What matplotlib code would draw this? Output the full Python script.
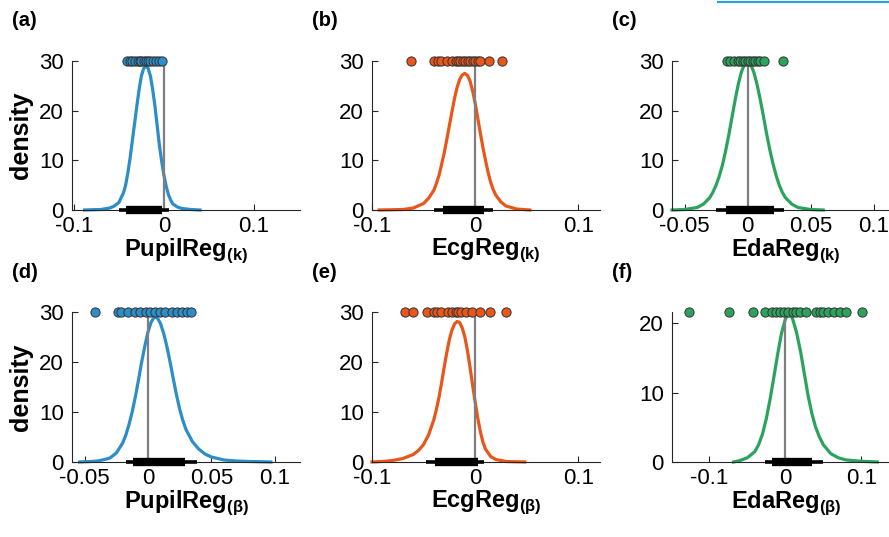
import matplotlib
matplotlib.use("Agg")
import matplotlib.pyplot as plt
from matplotlib.lines import Line2D

plt.rcParams['font.family'] = ['Liberation Sans', 'DejaVu Sans']
plt.rcParams['axes.unicode_minus'] = False
plt.rcParams['mathtext.fontset'] = 'custom'
plt.rcParams['mathtext.rm'] = 'Liberation Sans'
plt.rcParams['mathtext.bf'] = 'Liberation Sans:bold'

BLUE = '#2C8DC7'
ORANGE = '#E8561A'
GREEN = '#2BA35D'

# ---------------- data ----------------
# (a) PupilReg k
a_x = [-0.088, -0.08, -0.07, -0.06, -0.055, -0.05, -0.045, -0.0425, -0.04, -0.0375, -0.035, -0.0325, -0.03, -0.0275, -0.025, -0.0225, -0.02, -0.0175, -0.015, -0.0125, -0.01, -0.0075, -0.005, -0.0025, 0.0, 0.0025, 0.005, 0.0075, 0.01, 0.015, 0.02, 0.03, 0.04]
a_y = [0, 0.05, 0.1, 0.4, 0.8, 1.5, 3.4, 5, 7.5, 10.5, 14, 17.5, 21, 24.3, 27, 28.5, 29, 28.5, 27, 24.3, 21, 17, 13, 9.8, 7, 4.8, 3.1, 2, 1.2, 0.6, 0.3, 0.1, 0]
a_pts = [-0.041, -0.038, -0.035, -0.032, -0.029, -0.027, -0.025, -0.022, -0.02, -0.018, -0.015, -0.012, -0.009, -0.006, -0.002]
a_whisk = [-0.05, 0.0056]
a_box = [-0.042, -0.002]

# (b) EcgReg k
b_x = [-0.093, -0.08, -0.07, -0.06, -0.05, -0.045, -0.04, -0.0375, -0.035, -0.0325, -0.03, -0.0275, -0.025, -0.0225, -0.02, -0.0175, -0.015, -0.0125, -0.01, -0.0075, -0.005, -0.0025, 0.0, 0.0025, 0.005, 0.0075, 0.01, 0.0125, 0.015, 0.0175, 0.02, 0.025, 0.03, 0.04, 0.053]
b_y = [0, 0.05, 0.1, 0.4, 1.3, 2.4, 4, 5.4, 7, 9.2, 11.5, 14.2, 17, 19.8, 22.5, 24.7, 26.3, 27.2, 27.5, 27.1, 26, 24, 21.5, 18.5, 15.5, 12.6, 10, 7.6, 5.6, 4.1, 3, 1.6, 0.8, 0.2, 0]
b_pts = [-0.062, -0.040, -0.036, -0.033, -0.027, -0.022, -0.019, -0.017, -0.015, -0.012, -0.0097, -0.007, -0.005, -0.002, 0.0, 0.003, 0.005, 0.0136, 0.026]
b_whisk = [-0.040, 0.0175]
b_box = [-0.031, 0.0087]

# (c) EdaReg k
c_x = [-0.06, -0.05, -0.04, -0.035, -0.03, -0.0275, -0.025, -0.0225, -0.02, -0.0175, -0.015, -0.0125, -0.01, -0.0075, -0.005, -0.0025, 0.0, 0.0025, 0.005, 0.0075, 0.01, 0.0125, 0.015, 0.0175, 0.02, 0.0225, 0.025, 0.0275, 0.03, 0.035, 0.04, 0.05, 0.06]
c_y = [0, 0.1, 0.5, 1.2, 2.5, 3.6, 5, 6.8, 9, 11.8, 15, 18.5, 22, 25.2, 27.7, 29.4, 30, 29.3, 27.7, 25.3, 22.3, 19, 15.5, 12.3, 9.5, 7.1, 5.1, 3.6, 2.5, 1.2, 0.5, 0.1, 0]
c_pts = [-0.0167, -0.014, -0.011, -0.008, -0.006, -0.004, -0.002, 0.0, 0.002, 0.004, 0.006, 0.008, 0.010, 0.0127, 0.028]
c_whisk = [-0.025, 0.029]
c_box = [-0.017, 0.021]

# (d) PupilReg beta
d_x = [-0.054, -0.045, -0.04, -0.035, -0.03, -0.025, -0.02, -0.0175, -0.015, -0.0125, -0.01, -0.0075, -0.005, -0.0025, 0.0, 0.0025, 0.005, 0.0075, 0.01, 0.0125, 0.015, 0.0175, 0.02, 0.0225, 0.025, 0.0275, 0.03, 0.035, 0.04, 0.045, 0.05, 0.06, 0.07, 0.08, 0.097]
d_y = [0, 0.1, 0.2, 0.45, 0.8, 1.8, 3.8, 5.4, 7.5, 10, 13, 16.4, 20, 23.2, 26, 28, 29, 28.8, 27.6, 25.6, 23, 19.9, 16.6, 13.4, 10.6, 8.3, 6.5, 4.1, 2.6, 1.6, 1.0, 0.4, 0.2, 0.1, 0]
d_pts = [-0.042, -0.024, -0.021, -0.016, -0.010, -0.006, -0.0016, 0.0016, 0.0055, 0.0094, 0.0134, 0.019, 0.023, 0.027, 0.031, 0.034]
d_whisk = [-0.017, 0.0386]
d_box = [-0.012, 0.029]

# (e) EcgReg beta
e_x = [-0.1, -0.09, -0.08, -0.07, -0.06, -0.055, -0.05, -0.045, -0.04, -0.0375, -0.035, -0.0325, -0.03, -0.0275, -0.025, -0.0225, -0.02, -0.0175, -0.015, -0.0125, -0.01, -0.0075, -0.005, -0.0025, 0.0, 0.0025, 0.005, 0.0075, 0.01, 0.015, 0.02, 0.03, 0.048]
e_y = [0, 0.1, 0.3, 0.7, 1.5, 2.3, 3.5, 5.5, 8.5, 10.6, 13, 15.9, 19, 21.9, 24.5, 26.4, 27.6, 28.1, 27.9, 26.8, 25, 22.3, 19, 15.4, 12, 8.8, 6.1, 4, 2.6, 1.1, 0.5, 0.1, 0]
e_pts = [-0.068, -0.060, -0.047, -0.040, -0.037, -0.033, -0.026, -0.022, -0.019, -0.0165, -0.0136, -0.0087, -0.003, 0.005, 0.0146, 0.030]
e_whisk = [-0.048, 0.0087]
e_box = [-0.039, 0.003]

# (f) EdaReg beta
f_x = [-0.068, -0.06, -0.05, -0.04, -0.035, -0.03, -0.025, -0.02, -0.015, -0.01, -0.005, 0.0, 0.0025, 0.005, 0.0075, 0.01, 0.015, 0.02, 0.025, 0.03, 0.035, 0.04, 0.045, 0.05, 0.06, 0.07, 0.08, 0.1, 0.121]
f_y = [0, 0.2, 0.6, 1.5, 2.5, 4, 6.2, 9, 12.2, 15.5, 18.5, 20.5, 21.1, 21.3, 21.1, 20.5, 18.6, 16, 12.8, 9.6, 7, 5, 3.6, 2.5, 1.2, 0.6, 0.3, 0.1, 0]
f_pts = [-0.126, -0.074, -0.042, -0.026, -0.018, -0.012, -0.0066, -0.0013, 0.004, 0.0105, 0.0145, 0.020, 0.0276, 0.041, 0.046, 0.050, 0.0566, 0.0645, 0.072, 0.080, 0.101]
f_whisk = [-0.026, 0.050]
f_box = [-0.017, 0.0355]

panels = [
    dict(tag='(a)', x=a_x, y=a_y, pts=a_pts, wh=a_whisk, bx=a_box, color=BLUE,
         xlim=(-0.102, 0.151), xticks=[-0.1, 0, 0.1], xtl=['-0.1', '0', '0.1'],
         ylim=(0, 30), yticks=[0, 10, 20, 30], top=30,
         xlabel=r'PupilReg$_{\mathbf{(k)}}$', ylabel=True),
    dict(tag='(b)', x=b_x, y=b_y, pts=b_pts, wh=b_whisk, bx=b_box, color=ORANGE,
         xlim=(-0.1, 0.121), xticks=[-0.1, 0, 0.1], xtl=['-0.1', '0', '0.1'],
         ylim=(0, 30), yticks=[0, 10, 20, 30], top=30,
         xlabel=r'EcgReg$_{\mathbf{(k)}}$', ylabel=False),
    dict(tag='(c)', x=c_x, y=c_y, pts=c_pts, wh=c_whisk, bx=c_box, color=GREEN,
         xlim=(-0.06, 0.121), xticks=[-0.05, 0, 0.05, 0.1], xtl=['-0.05', '0', '0.05', '0.1'],
         ylim=(0, 30), yticks=[0, 10, 20, 30], top=30,
         xlabel=r'EdaReg$_{\mathbf{(k)}}$', ylabel=False),
    dict(tag='(d)', x=d_x, y=d_y, pts=d_pts, wh=d_whisk, bx=d_box, color=BLUE,
         xlim=(-0.06, 0.12), xticks=[-0.05, 0, 0.05, 0.1], xtl=['-0.05', '0', '0.05', '0.1'],
         ylim=(0, 30), yticks=[0, 10, 20, 30], top=30,
         xlabel=r'PupilReg$_{\mathbf{(β)}}$', ylabel=True),
    dict(tag='(e)', x=e_x, y=e_y, pts=e_pts, wh=e_whisk, bx=e_box, color=ORANGE,
         xlim=(-0.1, 0.121), xticks=[-0.1, 0, 0.1], xtl=['-0.1', '0', '0.1'],
         ylim=(0, 30), yticks=[0, 10, 20, 30], top=30,
         xlabel=r'EcgReg$_{\mathbf{(β)}}$', ylabel=False),
    dict(tag='(f)', x=f_x, y=f_y, pts=f_pts, wh=f_whisk, bx=f_box, color=GREEN,
         xlim=(-0.149, 0.151), xticks=[-0.1, 0, 0.1], xtl=['-0.1', '0', '0.1'],
         ylim=(0, 21.6), yticks=[0, 10, 20], top=21.6,
         xlabel=r'EdaReg$_{\mathbf{(β)}}$', ylabel=False),
]

W, H = 889, 537
fig = plt.figure(figsize=(W / 100, H / 100), dpi=100)

col_left = [72, 372, 672]
row_top = [61, 312]
row_h = [149, 150]
ax_w = 228

for i, p in enumerate(panels):
    r, c = divmod(i, 3)
    left = col_left[c] / W
    bottom = (H - row_top[r] - row_h[r]) / H
    ax = fig.add_axes([left, bottom, ax_w / W, row_h[r] / H])
    ax.plot(p['x'], p['y'], color=p['color'], lw=2.3, zorder=2, clip_on=False,
            solid_joinstyle='round')
    ax.plot([0, 0], [0, p['top']], color='#7f7f7f', lw=1.6, zorder=3, clip_on=False)
    ax.plot(p['wh'], [0, 0], color='black', lw=2.6, solid_capstyle='butt', zorder=4, clip_on=False)
    ax.plot(p['bx'], [0, 0], color='black', lw=6.0, solid_capstyle='butt', zorder=5, clip_on=False)
    ax.scatter(p['pts'], [p['top']] * len(p['pts']), s=44, color=p['color'],
               edgecolors='#333333', linewidths=0.7, zorder=6, clip_on=False)
    ax.set_xlim(*p['xlim'])
    ax.set_ylim(*p['ylim'])
    ax.set_xticks(p['xticks'])
    ax.set_xticklabels(p['xtl'])
    ax.set_yticks(p['yticks'])
    for s in ['top', 'right']:
        ax.spines[s].set_visible(False)
    for s in ['left', 'bottom']:
        ax.spines[s].set_color('#262626')
        ax.spines[s].set_linewidth(0.8)
    ax.tick_params(direction='in', length=4, width=0.8, labelsize=16, colors='#262626',
                   labelcolor='black')
    ax.tick_params(axis='y', pad=6)
    ax.tick_params(axis='x', pad=4)
    ax.set_xlabel(p['xlabel'], fontsize=17, fontweight='bold', labelpad=0)
    if p['ylabel']:
        ax.set_ylabel('density', fontsize=18, fontweight='bold', labelpad=4)
    ax.patch.set_alpha(0)
    fig.text((col_left[c] - 60) / W, 1 - (row_top[r] - 40) / H, p['tag'],
             fontsize=14.5, fontweight='bold', ha='left', va='center')

# thin cyan line at the top right edge
fig.add_artist(Line2D([718 / W, 1.0], [1 - 1.5 / H, 1 - 1.5 / H], color='#1FA3E3', lw=1.5))

fig.savefig('out.png', dpi=100)
